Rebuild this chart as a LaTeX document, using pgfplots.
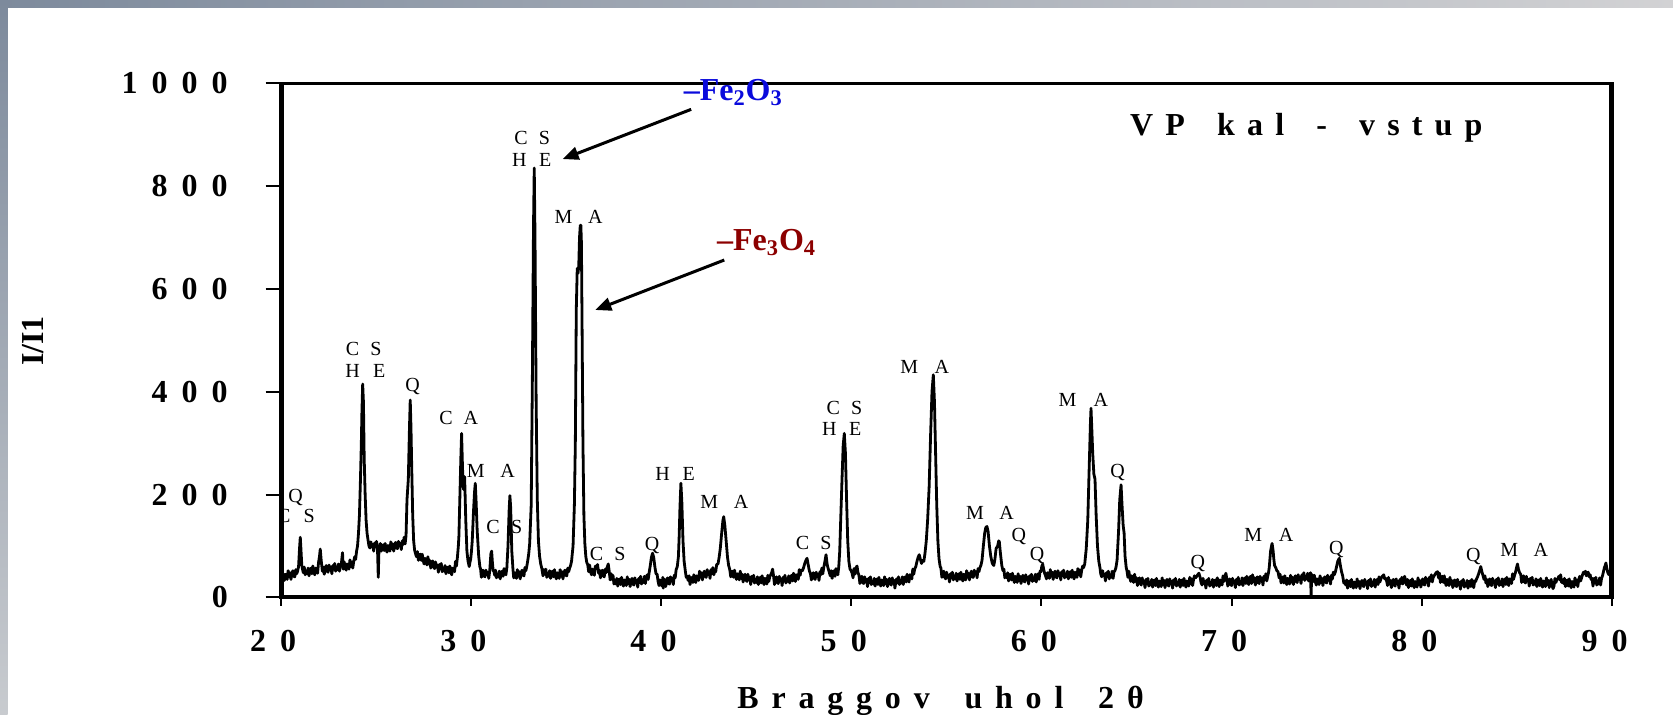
\documentclass[border=0pt]{standalone}
\usepackage{pgfplots}
\pgfplotsset{compat=1.18}
\usepackage{fontspec}
\usetikzlibrary{arrows.meta}
\setmainfont{Liberation Serif}
\newfontfamily\tickfont[LetterSpace=44]{Liberation Serif}
\newfontfamily\xlabfont[LetterSpace=40]{Liberation Serif}
\newfontfamily\titlefont[LetterSpace=38]{Liberation Serif}
\definecolor{feblue}{RGB}{10,10,220}
\definecolor{fered}{RGB}{140,0,0}
\definecolor{bandA}{RGB}{125,138,156}
\definecolor{bandB}{RGB}{210,210,212}
\definecolor{bandC}{RGB}{200,203,207}
\tikzset{ph/.style={anchor=base, inner sep=0pt, font=\fontsize{10}{12}\selectfont}}

\begin{document}
\begin{tikzpicture}[x=1pt,y=1pt]
\useasboundingbox (0,0) rectangle (836.5,357.5);
\fill[white] (0,0) rectangle (836.5,357.5);
\shade[left color=bandA, right color=bandB] (0,353.85) rectangle (836.5,357.5);
\shade[top color=bandA, bottom color=bandC] (0,0) rectangle (3.75,357.5);

\begin{axis}[
  at={(140.25pt,58.8pt)}, anchor=south west,
  scale only axis, width=665.75pt, height=257.05pt,
  xmin=20, xmax=90, ymin=0, ymax=1000,
  xtick={20,30,40,50,60,70,80,90},
  xticklabels={20,30,40,50,60,70,80,90},
  ytick={0,200,400,600,800,1000},
  yticklabels={0,200,400,600,800,1000},
  xtick pos=left, ytick pos=left,
  tick align=outside,
  axis line style={line width=1.75pt},
  xtick style={black, line width=1pt, /pgfplots/major tick length=4.3pt},
  ytick style={black, line width=1pt, /pgfplots/major tick length=7.5pt},
  ticklabel style={font=\tickfont\bfseries\fontsize{16}{19}\selectfont, inner sep=0pt},
  xticklabel style={anchor=base, yshift=-22.85pt, xshift=-3.7pt},
  yticklabel style={anchor=east, xshift=-21.9pt},
]
\addplot[black, line width=1.4pt, line join=round] coordinates {
(20.00,38) (20.05,35) (20.10,49) (20.15,39) (20.20,33) (20.25,45) (20.30,43) (20.35,35) (20.40,52) (20.45,40)
(20.50,48) (20.55,35) (20.60,46) (20.65,52) (20.70,41) (20.75,40) (20.80,54) (20.85,46) (20.90,51) (20.95,60)
(21.00,95) (21.04,117) (21.08,90) (21.12,62) (21.15,56) (21.20,48) (21.25,59) (21.30,44) (21.35,51) (21.40,46)
(21.45,57) (21.50,42) (21.55,53) (21.60,57) (21.65,46) (21.70,61) (21.75,50) (21.80,44) (21.85,57) (21.90,54) (21.95,47)
(22.00,68) (22.05,80) (22.09,94) (22.14,72) (22.20,51) (22.25,59) (22.30,45) (22.35,56) (22.40,62) (22.45,51)
(22.50,49) (22.55,63) (22.60,54) (22.65,59) (22.70,46) (22.75,62) (22.80,55) (22.85,66) (22.90,51) (22.95,59)
(23.00,54) (23.05,65) (23.10,51) (23.15,62) (23.20,66) (23.26,87) (23.30,55) (23.35,69) (23.40,58) (23.45,53)
(23.50,65) (23.55,63) (23.60,55) (23.65,73) (23.70,60) (23.75,69) (23.80,57) (23.85,70) (23.90,79) (23.95,74)
(24.00,90) (24.05,100) (24.10,125) (24.15,160) (24.20,225) (24.25,300) (24.28,360) (24.32,415) (24.36,380) (24.40,270)
(24.45,200) (24.50,150) (24.55,125) (24.60,112) (24.65,100) (24.70,96) (24.75,108) (24.80,99) (24.85,103) (24.90,90)
(24.95,106) (25.00,98) (25.05,109) (25.10,94) (25.14,39) (25.18,99) (25.20,94) (25.25,105) (25.30,90) (25.35,101)
(25.40,102) (25.45,91) (25.50,105) (25.55,94) (25.60,88) (25.65,101) (25.70,98) (25.75,90) (25.80,108) (25.85,95)
(25.90,104) (25.95,90) (26.00,102) (26.05,107) (26.10,96) (26.15,95) (26.20,109) (26.25,101) (26.30,105) (26.35,93)
(26.40,110) (26.45,103) (26.50,117) (26.55,104) (26.60,120) (26.65,190) (26.72,230) (26.78,330) (26.82,384) (26.86,330)
(26.90,250) (26.95,160) (27.00,110) (27.05,92) (27.10,85) (27.15,79) (27.20,89) (27.25,72) (27.30,82) (27.35,84)
(27.40,72) (27.45,84) (27.50,72) (27.55,65) (27.60,76) (27.65,72) (27.70,63) (27.75,79) (27.80,65) (27.85,72)
(27.90,57) (27.95,67) (28.00,71) (28.05,59) (28.10,56) (28.15,69) (28.20,59) (28.25,63) (28.30,49) (28.35,64)
(28.40,56) (28.45,66) (28.50,50) (28.55,57) (28.60,51) (28.65,62) (28.70,46) (28.75,57) (28.80,59) (28.85,48)
(28.90,61) (28.95,50) (29.00,44) (29.05,57) (29.10,56) (29.15,50) (29.20,70) (29.25,61) (29.30,78) (29.35,100)
(29.38,120) (29.44,210) (29.48,270) (29.52,319) (29.57,250) (29.62,210) (29.68,235) (29.74,150) (29.80,90) (29.86,70)
(29.92,60) (29.96,68) (30.00,75) (30.04,90) (30.08,110) (30.15,170) (30.20,205) (30.24,222) (30.28,190) (30.34,130)
(30.42,80) (30.48,60) (30.52,55) (30.56,39) (30.60,48) (30.65,53) (30.70,42) (30.75,40) (30.80,53) (30.85,44)
(30.90,49) (30.95,37) (31.00,52) (31.06,85) (31.10,90) (31.14,68) (31.18,52) (31.22,51) (31.26,43) (31.30,53)
(31.35,38) (31.40,45) (31.45,40) (31.50,51) (31.55,36) (31.60,48) (31.65,51) (31.70,41) (31.75,56) (31.80,47)
(31.85,44) (31.90,58) (31.96,100) (32.02,170) (32.06,198) (32.10,175) (32.16,90) (32.22,55) (32.26,38) (32.30,48)
(32.35,45) (32.40,37) (32.45,54) (32.50,41) (32.55,50) (32.60,36) (32.65,48) (32.70,53) (32.75,43) (32.80,42)
(32.85,58) (32.90,52) (32.95,61) (33.00,72) (33.05,85) (33.10,105) (33.18,180) (33.24,420) (33.30,720) (33.34,835)
(33.38,700) (33.44,380) (33.50,190) (33.56,110) (33.62,80) (33.68,65) (33.74,56) (33.80,42) (33.85,54) (33.90,45)
(33.95,55) (34.00,39) (34.05,46) (34.10,41) (34.15,52) (34.20,37) (34.25,48) (34.30,51) (34.35,40) (34.40,54)
(34.45,42) (34.50,36) (34.55,48) (34.60,45) (34.65,37) (34.70,54) (34.75,41) (34.80,50) (34.85,36) (34.90,48)
(34.95,53) (35.00,43) (35.05,42) (35.10,57) (35.15,50) (35.20,57) (35.25,62) (35.30,70) (35.38,100) (35.45,180)
(35.50,300) (35.55,560) (35.60,640) (35.64,630) (35.68,645) (35.72,700) (35.76,724) (35.79,724) (35.82,690) (35.86,500)
(35.90,300) (35.95,160) (36.00,105) (36.05,80) (36.10,68) (36.15,64) (36.20,50) (36.25,63) (36.30,50) (36.35,44)
(36.40,55) (36.45,51) (36.50,43) (36.55,61) (36.60,56) (36.67,64) (36.72,47) (36.77,53) (36.82,38) (36.87,48)
(36.92,53) (36.97,42) (37.02,40) (37.07,55) (37.12,48) (37.17,58) (37.23,65) (37.28,51) (37.33,34) (37.38,46)
(37.43,35) (37.48,43) (37.53,26) (37.58,32) (37.63,26) (37.68,37) (37.73,22) (37.78,33) (37.83,36) (37.88,25)
(37.93,39) (37.98,28) (38.03,22) (38.08,34) (38.13,31) (38.18,23) (38.23,40) (38.28,27) (38.33,35) (38.38,21)
(38.43,32) (38.48,37) (38.53,26) (38.58,24) (38.63,38) (38.68,29) (38.73,33) (38.78,20) (38.83,37) (38.88,29)
(38.93,41) (38.98,26) (39.03,34) (39.08,29) (39.13,41) (39.18,27) (39.23,39) (39.28,44) (39.33,35) (39.38,48)
(39.44,62) (39.50,78) (39.56,86) (39.62,78) (39.68,60) (39.74,46) (39.80,45) (39.85,31) (39.90,23) (39.95,34)
(40.00,31) (40.05,22) (40.10,39) (40.12,18) (40.15,26) (40.20,35) (40.25,21) (40.30,32) (40.35,38) (40.40,27)
(40.45,26) (40.50,40) (40.55,32) (40.60,37) (40.65,25) (40.70,43) (40.75,38) (40.80,54) (40.86,60) (40.92,80)
(40.96,120) (41.00,175) (41.05,222) (41.10,185) (41.16,110) (41.22,70) (41.28,52) (41.33,39) (41.38,41) (41.43,33)
(41.48,42) (41.53,25) (41.58,36) (41.63,39) (41.68,29) (41.73,44) (41.78,34) (41.83,29) (41.88,42) (41.93,40)
(41.98,33) (42.03,51) (42.08,39) (42.13,48) (42.18,34) (42.23,46) (42.28,51) (42.33,41) (42.38,39) (42.43,54)
(42.48,45) (42.53,50) (42.58,37) (42.63,54) (42.68,46) (42.73,58) (42.78,44) (42.83,53) (42.88,50) (42.93,64)
(43.00,65) (43.06,78) (43.12,95) (43.20,128) (43.26,150) (43.30,157) (43.36,140) (43.44,105) (43.50,78) (43.56,62)
(43.62,54) (43.67,40) (43.72,49) (43.77,51) (43.82,39) (43.87,53) (43.92,41) (43.97,35) (44.02,46) (44.07,43)
(44.12,34) (44.17,51) (44.22,37) (44.27,45) (44.32,30) (44.37,41) (44.42,45) (44.47,34) (44.52,31) (44.57,45)
(44.62,35) (44.67,39) (44.72,25) (44.77,41) (44.82,32) (44.87,43) (44.92,28) (44.97,34) (45.02,29) (45.07,40)
(45.12,25) (45.17,36) (45.22,39) (45.27,28) (45.32,42) (45.37,31) (45.42,25) (45.47,37) (45.52,34) (45.57,26)
(45.62,43) (45.67,31) (45.72,40) (45.77,44) (45.82,48) (45.87,55) (45.92,42) (45.97,25) (46.02,35) (46.07,40)
(46.12,29) (46.17,27) (46.22,41) (46.27,32) (46.32,36) (46.37,23) (46.42,39) (46.47,32) (46.52,43) (46.57,28)
(46.62,36) (46.67,31) (46.72,42) (46.77,28) (46.82,39) (46.87,43) (46.92,32) (46.97,47) (47.02,36) (47.07,31)
(47.12,44) (47.17,42) (47.22,35) (47.27,54) (47.32,43) (47.37,53) (47.44,52) (47.50,58) (47.56,66) (47.62,72)
(47.68,76) (47.74,64) (47.80,52) (47.86,46) (47.91,34) (47.96,44) (48.01,48) (48.06,37) (48.11,35) (48.16,49)
(48.21,41) (48.26,45) (48.31,33) (48.36,50) (48.41,44) (48.46,57) (48.51,46) (48.56,58) (48.62,70) (48.68,83)
(48.74,64) (48.80,55) (48.85,49) (48.90,42) (48.95,52) (49.00,37) (49.05,48) (49.10,52) (49.15,41) (49.20,56)
(49.25,47) (49.30,44) (49.35,60) (49.40,90) (49.45,150) (49.52,230) (49.58,295) (49.64,319) (49.70,280) (49.76,190)
(49.82,110) (49.88,70) (49.94,55) (50.00,52) (50.05,47) (50.10,38) (50.15,56) (50.20,45) (50.26,58) (50.31,61)
(50.36,48) (50.41,43) (50.46,27) (50.51,37) (50.56,41) (50.61,29) (50.66,27) (50.71,40) (50.76,31) (50.81,35)
(50.86,21) (50.91,37) (50.96,29) (51.01,40) (51.06,25) (51.11,31) (51.16,26) (51.21,37) (51.26,22) (51.31,33)
(51.36,36) (51.41,25) (51.46,39) (51.51,28) (51.56,22) (51.61,34) (51.66,31) (51.71,23) (51.76,40) (51.81,27)
(51.86,35) (51.91,21) (51.96,32) (52.01,37) (52.06,26) (52.11,24) (52.16,38) (52.21,29) (52.26,33) (52.30,18)
(52.34,28) (52.39,36) (52.44,28) (52.49,40) (52.54,25) (52.59,33) (52.64,28) (52.69,40) (52.74,25) (52.79,37)
(52.84,40) (52.89,30) (52.94,45) (52.99,35) (53.04,30) (53.09,44) (53.14,42) (53.19,36) (53.24,55) (53.29,45)
(53.34,55) (53.40,60) (53.46,70) (53.52,78) (53.58,83) (53.64,74) (53.70,66) (53.76,72) (53.82,70) (53.88,85)
(53.95,110) (54.02,150) (54.10,215) (54.18,320) (54.25,400) (54.32,433) (54.38,380) (54.44,280) (54.50,180) (54.56,110)
(54.62,75) (54.68,60) (54.72,57) (54.77,39) (54.82,48) (54.87,51) (54.92,39) (54.97,36) (55.02,49) (55.07,39)
(55.12,43) (55.17,30) (55.22,46) (55.27,38) (55.32,49) (55.37,34) (55.42,41) (55.47,36) (55.52,47) (55.57,32)
(55.62,43) (55.67,46) (55.72,35) (55.77,49) (55.82,38) (55.87,32) (55.92,45) (55.97,42) (56.02,34) (56.07,52)
(56.12,39) (56.17,47) (56.22,34) (56.27,45) (56.32,51) (56.37,40) (56.42,39) (56.47,53) (56.52,45) (56.57,50)
(56.62,38) (56.67,56) (56.72,50) (56.77,58) (56.82,62) (56.88,72) (56.95,100) (57.02,125) (57.08,136) (57.14,138)
(57.20,128) (57.27,100) (57.34,80) (57.42,66) (57.50,62) (57.56,75) (57.62,95) (57.70,100) (57.76,110) (57.79,108)
(57.85,85) (57.92,62) (57.98,52) (58.03,55) (58.08,38) (58.13,44) (58.18,38) (58.23,48) (58.28,32) (58.33,43)
(58.38,45) (58.43,34) (58.48,47) (58.53,36) (58.58,29) (58.63,41) (58.68,38) (58.73,29) (58.78,46) (58.83,33)
(58.88,41) (58.93,27) (58.98,38) (59.03,43) (59.08,32) (59.13,30) (59.18,44) (59.23,35) (59.28,39) (59.33,26)
(59.38,42) (59.43,34) (59.48,45) (59.53,31) (59.58,38) (59.63,33) (59.68,45) (59.73,30) (59.78,42) (59.83,46)
(59.88,35) (59.93,51) (59.98,50) (60.02,60) (60.07,65) (60.12,55) (60.17,47) (60.22,42) (60.27,36) (60.32,48)
(60.37,45) (60.42,37) (60.47,54) (60.52,41) (60.57,49) (60.62,35) (60.67,46) (60.72,51) (60.77,40) (60.82,38)
(60.87,52) (60.92,43) (60.97,47) (61.02,34) (61.07,50) (61.12,42) (61.17,53) (61.22,38) (61.27,45) (61.32,40)
(61.37,51) (61.42,36) (61.47,47) (61.52,50) (61.57,39) (61.62,53) (61.67,42) (61.72,36) (61.77,49) (61.82,46)
(61.87,39) (61.92,56) (61.97,44) (62.02,53) (62.07,40) (62.12,53) (62.17,61) (62.22,58) (62.28,65) (62.36,95)
(62.44,150) (62.52,260) (62.58,340) (62.61,368) (62.65,330) (62.70,280) (62.76,240) (62.82,230) (62.88,160) (62.95,100)
(63.02,70) (63.08,58) (63.12,46) (63.17,40) (63.22,52) (63.27,42) (63.32,45) (63.37,32) (63.42,48) (63.47,40)
(63.52,51) (63.57,36) (63.62,44) (63.67,39) (63.72,51) (63.77,37) (63.82,50) (63.87,52) (63.92,58) (63.98,72)
(64.06,130) (64.12,190) (64.19,219) (64.24,180) (64.30,140) (64.35,125) (64.40,80) (64.46,58) (64.50,52) (64.55,39)
(64.60,51) (64.65,38) (64.70,31) (64.75,42) (64.80,38) (64.85,29) (64.90,45) (64.95,31) (65.00,38) (65.05,23)
(65.10,34) (65.15,38) (65.20,27) (65.25,24) (65.30,38) (65.35,29) (65.40,32) (65.45,19) (65.50,35) (65.55,26)
(65.60,37) (65.65,22) (65.70,29) (65.75,24) (65.80,35) (65.85,20) (65.90,31) (65.95,34) (66.00,23) (66.05,37)
(66.10,26) (66.15,20) (66.20,32) (66.25,29) (66.30,21) (66.35,38) (66.40,25) (66.45,33) (66.50,19) (66.55,30)
(66.60,35) (66.65,24) (66.70,22) (66.75,36) (66.80,27) (66.85,31) (66.90,18) (66.95,34) (67.00,26) (67.05,37)
(67.10,22) (67.15,29) (67.20,24) (67.25,35) (67.30,20) (67.35,31) (67.40,34) (67.45,23) (67.50,37) (67.55,26)
(67.60,20) (67.65,32) (67.70,29) (67.75,22) (67.80,39) (67.85,27) (67.90,36) (67.95,23) (68.00,35) (68.05,42)
(68.10,38) (68.15,40) (68.22,44) (68.28,47) (68.34,40) (68.40,28) (68.45,24) (68.50,37) (68.55,27) (68.60,31)
(68.65,18) (68.70,34) (68.75,26) (68.80,37) (68.85,22) (68.90,29) (68.95,24) (69.00,35) (69.05,20) (69.10,31)
(69.15,34) (69.20,23) (69.25,38) (69.30,27) (69.35,21) (69.40,34) (69.45,31) (69.50,24) (69.55,42) (69.60,31)
(69.65,40) (69.70,47) (69.75,36) (69.80,22) (69.85,32) (69.90,36) (69.95,25) (70.00,23) (70.05,37) (70.10,28)
(70.15,32) (70.20,19) (70.25,35) (70.30,27) (70.35,39) (70.40,24) (70.45,31) (70.50,26) (70.55,38) (70.60,23)
(70.65,34) (70.70,38) (70.75,27) (70.80,41) (70.85,31) (70.90,25) (70.95,38) (71.00,41) (71.05,27) (71.10,44)
(71.15,31) (71.20,38) (71.25,24) (71.30,35) (71.35,40) (71.40,29) (71.45,27) (71.50,41) (71.55,32) (71.60,37)
(71.65,24) (71.70,41) (71.75,34) (71.80,46) (71.85,32) (71.90,41) (71.94,48) (71.98,58) (72.05,90) (72.10,100)
(72.13,105) (72.18,92) (72.22,75) (72.26,62) (72.32,58) (72.38,52) (72.44,50) (72.50,38) (72.55,45) (72.60,28)
(72.65,38) (72.70,40) (72.75,28) (72.80,42) (72.85,31) (72.90,25) (72.95,37) (73.00,34) (73.05,26) (73.10,43)
(73.15,30) (73.20,39) (73.25,25) (73.30,36) (73.35,42) (73.40,31) (73.45,29) (73.50,44) (73.55,35) (73.60,40)
(73.65,27) (73.70,44) (73.75,36) (73.80,48) (73.85,33) (73.90,41) (73.95,36) (74.00,47) (74.05,32) (74.10,43)
(74.15,48) (74.18,2) (74.21,44) (74.25,44) (74.30,31) (74.35,43) (74.40,31) (74.45,24) (74.50,36) (74.55,33)
(74.60,25) (74.65,42) (74.70,29) (74.75,37) (74.80,23) (74.85,35) (74.90,40) (74.95,30) (75.00,28) (75.05,43)
(75.10,34) (75.15,39) (75.20,26) (75.25,43) (75.30,36) (75.35,49) (75.40,44) (75.46,50) (75.52,60) (75.58,70)
(75.66,76) (75.72,62) (75.78,50) (75.84,42) (75.90,28) (75.95,31) (76.00,24) (76.05,34) (76.10,18) (76.15,29)
(76.20,32) (76.25,21) (76.30,35) (76.35,24) (76.40,18) (76.45,30) (76.50,27) (76.55,19) (76.60,36) (76.65,23)
(76.70,31) (76.75,17) (76.80,28) (76.85,33) (76.90,23) (76.95,21) (77.00,35) (77.05,26) (77.10,30) (77.15,17)
(77.20,33) (77.25,25) (77.30,36) (77.35,21) (77.40,29) (77.45,24) (77.50,35) (77.55,20) (77.60,32) (77.65,35)
(77.70,25) (77.75,40) (77.80,30) (77.85,36) (77.90,40) (77.95,42) (78.00,44) (78.05,36) (78.10,37) (78.15,32)
(78.20,23) (78.25,39) (78.30,26) (78.35,33) (78.40,19) (78.45,30) (78.50,35) (78.55,24) (78.60,22) (78.65,36)
(78.70,27) (78.75,31) (78.80,18) (78.85,35) (78.90,27) (78.95,39) (79.00,26) (79.05,36) (79.10,41) (79.15,31)
(79.20,24) (79.25,35) (79.30,19) (79.35,30) (79.40,33) (79.45,22) (79.50,36) (79.55,25) (79.60,19) (79.65,31)
(79.70,28) (79.75,20) (79.80,38) (79.85,25) (79.90,33) (79.95,20) (80.00,31) (80.05,36) (80.10,26) (80.15,24)
(80.20,39) (80.25,30) (80.30,35) (80.35,22) (80.40,39) (80.45,32) (80.50,44) (80.55,30) (80.60,39) (80.65,42)
(80.70,45) (80.75,48) (80.83,50) (80.88,38) (80.93,47) (80.98,29) (81.03,39) (81.08,41) (81.13,29) (81.18,42)
(81.23,30) (81.28,23) (81.33,35) (81.38,31) (81.43,23) (81.48,39) (81.53,26) (81.58,33) (81.63,19) (81.68,30)
(81.73,34) (81.78,23) (81.83,21) (81.88,35) (81.93,25) (81.98,29) (82.03,16) (82.08,32) (82.13,24) (82.18,35)
(82.23,20) (82.28,27) (82.33,22) (82.38,33) (82.43,18) (82.48,29) (82.53,32) (82.58,21) (82.63,35) (82.68,25)
(82.73,19) (82.78,32) (82.83,31) (82.88,36) (82.93,40) (82.98,45) (83.04,52) (83.10,60) (83.16,50) (83.22,42)
(83.27,35) (83.32,42) (83.37,28) (83.42,35) (83.47,21) (83.52,32) (83.57,36) (83.62,25) (83.67,23) (83.72,37)
(83.77,28) (83.82,32) (83.87,19) (83.92,35) (83.97,27) (84.02,38) (84.07,23) (84.12,30) (84.17,25) (84.22,36)
(84.27,21) (84.32,32) (84.37,36) (84.42,25) (84.47,39) (84.52,29) (84.57,23) (84.62,36) (84.67,34) (84.72,27)
(84.77,46) (84.82,35) (84.87,42) (84.92,48) (84.97,56) (85.03,65) (85.08,55) (85.14,48) (85.20,45) (85.25,29)
(85.30,38) (85.35,42) (85.40,30) (85.45,28) (85.50,41) (85.55,32) (85.60,35) (85.65,22) (85.70,37) (85.75,29)
(85.80,39) (85.85,24) (85.90,31) (85.95,25) (86.00,36) (86.05,21) (86.10,32) (86.15,34) (86.20,23) (86.25,37)
(86.30,26) (86.35,20) (86.40,32) (86.45,29) (86.50,21) (86.55,38) (86.60,25) (86.65,33) (86.70,19) (86.75,30)
(86.80,35) (86.85,23) (86.90,17) (86.95,22) (87.00,37) (87.05,29) (87.10,35) (87.15,36) (87.20,41) (87.25,34)
(87.30,44) (87.35,29) (87.40,34) (87.45,27) (87.50,37) (87.55,21) (87.60,31) (87.65,34) (87.70,22) (87.75,36)
(87.80,25) (87.85,19) (87.90,31) (87.95,28) (88.00,20) (88.05,38) (88.10,25) (88.15,34) (88.20,21) (88.25,34)
(88.30,41) (88.35,32) (88.40,38) (88.45,44) (88.50,49) (88.55,46) (88.60,51) (88.65,42) (88.70,47) (88.75,49)
(88.80,40) (88.85,44) (88.90,35) (88.95,37) (89.00,22) (89.05,37) (89.10,28) (89.15,39) (89.20,24) (89.25,31)
(89.30,26) (89.35,38) (89.40,24) (89.45,37) (89.50,42) (89.55,50) (89.60,58) (89.64,62) (89.68,67) (89.72,58)
(89.78,48) (89.84,44) (89.90,52) (89.95,48) (90.00,46)
};

% phase letters above the reflections
\node[ph] at (axis cs:20.79,184) {Q};
\node[ph] at (axis cs:20.17,145) {C};
\node[ph] at (axis cs:21.51,145) {S};
\node[ph] at (axis cs:23.79,470) {C};
\node[ph] at (axis cs:25.02,470) {S};
\node[ph] at (axis cs:23.79,428) {H};
\node[ph] at (axis cs:25.19,428) {E};
\node[ph] at (axis cs:26.95,400) {Q};
\node[ph] at (axis cs:28.70,337) {C};
\node[ph] at (axis cs:30.01,337) {A};
\node[ph] at (axis cs:30.27,233) {M};
\node[ph] at (axis cs:31.94,233) {A};
\node[ph] at (axis cs:31.18,125) {C};
\node[ph] at (axis cs:32.41,125) {S};
\node[ph] at (axis cs:32.64,880) {C};
\node[ph] at (axis cs:33.87,880) {S};
\node[ph] at (axis cs:32.55,839) {H};
\node[ph] at (axis cs:33.92,839) {E};
\node[ph] at (axis cs:34.88,727) {M};
\node[ph] at (axis cs:36.55,727) {A};
\node[ph] at (axis cs:36.62,71) {C};
\node[ph] at (axis cs:37.84,71) {S};
\node[ph] at (axis cs:39.53,92) {Q};
\node[ph] at (axis cs:40.09,228) {H};
\node[ph] at (axis cs:41.46,228) {E};
\node[ph] at (axis cs:42.54,173) {M};
\node[ph] at (axis cs:44.21,173) {A};
\node[ph] at (axis cs:47.45,94) {C};
\node[ph] at (axis cs:48.68,94) {S};
\node[ph] at (axis cs:49.06,355) {C};
\node[ph] at (axis cs:50.29,355) {S};
\node[ph] at (axis cs:48.85,314) {H};
\node[ph] at (axis cs:50.22,314) {E};
\node[ph] at (axis cs:53.05,436) {M};
\node[ph] at (axis cs:54.77,436) {A};
\node[ph] at (axis cs:56.51,151) {M};
\node[ph] at (axis cs:58.17,151) {A};
\node[ph] at (axis cs:58.81,108) {Q};
\node[ph] at (axis cs:59.77,71) {Q};
\node[ph] at (axis cs:61.38,371) {M};
\node[ph] at (axis cs:63.13,371) {A};
\node[ph] at (axis cs:64.01,233) {Q};
\node[ph] at (axis cs:68.22,57) {Q};
\node[ph] at (axis cs:71.14,108) {M};
\node[ph] at (axis cs:72.87,108) {A};
\node[ph] at (axis cs:75.51,83) {Q};
\node[ph] at (axis cs:82.71,70) {Q};
\node[ph] at (axis cs:84.60,79) {M};
\node[ph] at (axis cs:86.26,79) {A};

% iron oxide callouts (the hematite one is set after the frame)
\coordinate (hem) at (axis cs:41.18,967);
\node[anchor=base west, inner sep=0pt, text=fered, font=\bfseries\fontsize{16}{19}\selectfont]
  at (axis cs:42.93,675.5) {\textendash Fe\textsubscript{3}O\textsubscript{4}};
\draw[-{Triangle[length=8pt,width=6.5pt]}, line width=1.5pt] (axis cs:41.59,949.3) -- (axis cs:34.83,852.6);
\draw[-{Triangle[length=8pt,width=6.5pt]}, line width=1.5pt] (axis cs:43.33,656.2) -- (axis cs:36.55,559);

% sample name
\node[anchor=base west, inner sep=0pt, font=\titlefont\bfseries\fontsize{16}{19}\selectfont]
  at (axis cs:64.65,899) {VP\hspace{6pt} kal\hspace{6pt} -\hspace{6pt} vstup};

% heavier frame on the left, right and bottom
\draw[line width=3.35pt] (rel axis cs:0,0) -- (rel axis cs:0,1);
\draw[line width=3.35pt] (rel axis cs:1,0) -- (rel axis cs:1,1);
\draw[line width=2.5pt, line cap=rect] (rel axis cs:0,0) -- (rel axis cs:1,0);
\end{axis}

\node[anchor=base west, inner sep=0pt, text=feblue, font=\bfseries\fontsize{16}{19}\selectfont]
  at (hem) {\textendash Fe\textsubscript{2}O\textsubscript{3}};
\node[anchor=base west, inner sep=0pt, font=\xlabfont\bfseries\fontsize{16}{19}\selectfont]
  at (368.5,3.35) {Braggov\hspace{7pt} uhol\hspace{7pt} 2θ};
\node[rotate=90, inner sep=0pt, font=\bfseries\fontsize{16}{19}\selectfont]
  at (16.5,187) {I/I1};
\end{tikzpicture}
\end{document}
